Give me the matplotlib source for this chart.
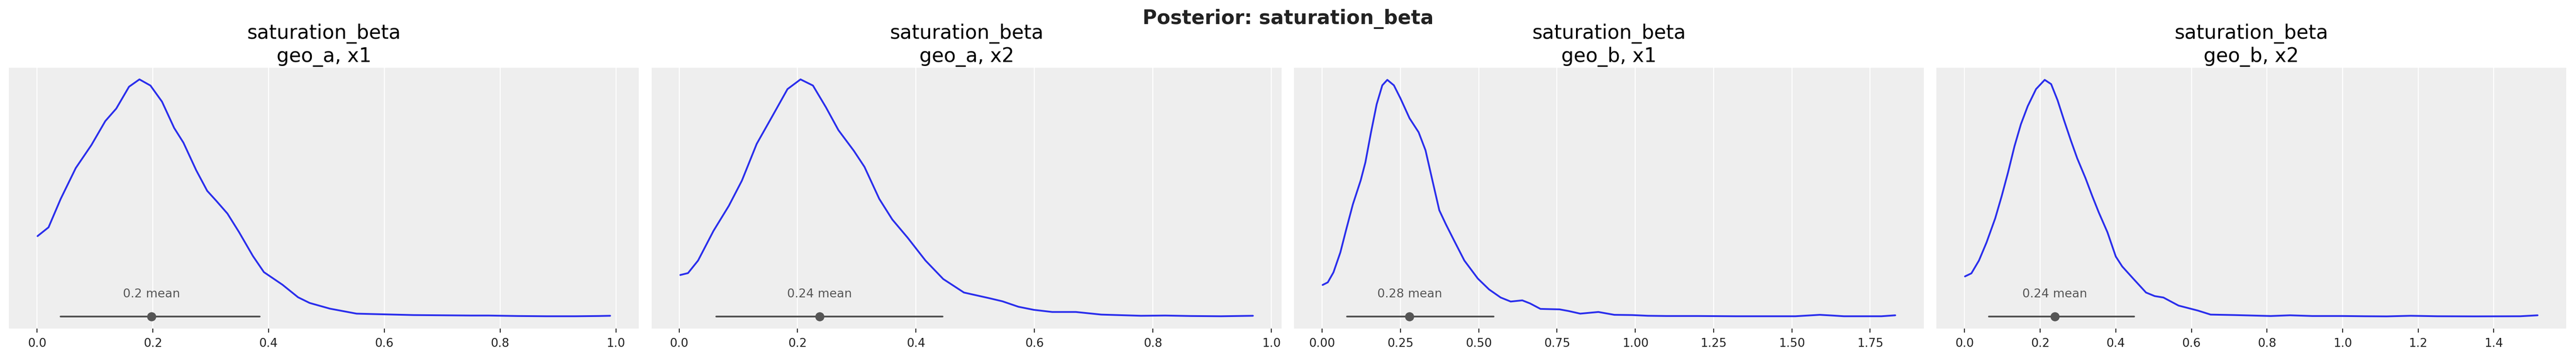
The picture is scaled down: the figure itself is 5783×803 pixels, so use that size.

# posterior density panels for saturation_beta
import numpy as np
import matplotlib
matplotlib.use("Agg")
import matplotlib.pyplot as plt

# panel titles
titles = ["saturation_beta\ngeo_a, x1", "saturation_beta\ngeo_a, x2",
          "saturation_beta\ngeo_b, x1", "saturation_beta\ngeo_b, x2"]

# density curves (x value, density scaled to peak = 1)
x_a1 = [0.001, 0.020, 0.041, 0.067, 0.094, 0.118, 0.137, 0.159, 0.177, 0.196, 0.216,
        0.237, 0.253, 0.275, 0.294, 0.310, 0.329, 0.349, 0.373, 0.392, 0.424, 0.451,
        0.471, 0.506, 0.552, 0.60, 0.65, 0.70, 0.75, 0.78, 0.83, 0.88, 0.93, 0.97, 0.99]
d_a1 = [0.339, 0.376, 0.496, 0.626, 0.723, 0.824, 0.877, 0.969, 1.000, 0.974, 0.906,
        0.795, 0.733, 0.617, 0.530, 0.487, 0.434, 0.356, 0.255, 0.187, 0.134, 0.081,
        0.057, 0.033, 0.012, 0.009, 0.006, 0.005, 0.004, 0.004, 0.002, 0.001, 0.001, 0.002, 0.003]

x_a2 = [0.002, 0.015, 0.032, 0.058, 0.084, 0.106, 0.131, 0.157, 0.183, 0.205, 0.226,
        0.248, 0.269, 0.295, 0.313, 0.338, 0.360, 0.386, 0.416, 0.446, 0.481, 0.524,
        0.546, 0.573, 0.599, 0.630, 0.670, 0.713, 0.780, 0.821, 0.864, 0.915, 0.969]
d_a2 = [0.175, 0.183, 0.236, 0.361, 0.467, 0.573, 0.728, 0.843, 0.959, 1.000, 0.974,
        0.882, 0.786, 0.699, 0.631, 0.496, 0.409, 0.332, 0.236, 0.158, 0.101, 0.077,
        0.064, 0.041, 0.028, 0.019, 0.019, 0.008, 0.003, 0.004, 0.002, 0.001, 0.003]

x_b1 = [0.0015, 0.018, 0.036, 0.058, 0.076, 0.098, 0.123, 0.138, 0.156, 0.174, 0.192,
        0.208, 0.229, 0.250, 0.279, 0.308, 0.330, 0.352, 0.374, 0.395, 0.421, 0.454,
        0.497, 0.533, 0.570, 0.602, 0.639, 0.664, 0.697, 0.758, 0.787, 0.824, 0.882,
        0.933, 0.990, 1.04, 1.10, 1.20, 1.32, 1.45, 1.511, 1.55, 1.589, 1.63, 1.666,
        1.75, 1.786, 1.83]
d_b1 = [0.133, 0.144, 0.186, 0.270, 0.363, 0.473, 0.574, 0.650, 0.777, 0.895, 0.975,
        0.998, 0.975, 0.920, 0.836, 0.777, 0.701, 0.574, 0.448, 0.389, 0.321, 0.236,
        0.160, 0.114, 0.080, 0.063, 0.068, 0.055, 0.032, 0.030, 0.023, 0.012, 0.019,
        0.007, 0.006, 0.003, 0.002, 0.002, 0.001, 0.001, 0.001, 0.004, 0.007, 0.004,
        0.001, 0.001, 0.001, 0.005]

x_b2 = [0.001, 0.018, 0.038, 0.058, 0.081, 0.098, 0.115, 0.132, 0.149, 0.167, 0.189,
        0.212, 0.229, 0.246, 0.263, 0.281, 0.298, 0.320, 0.338, 0.355, 0.378, 0.400,
        0.417, 0.446, 0.480, 0.503, 0.526, 0.566, 0.617, 0.651, 0.714, 0.81, 0.861,
        0.92, 1.00, 1.06, 1.117, 1.18, 1.25, 1.35, 1.47, 1.516]
d_b2 = [0.169, 0.182, 0.236, 0.312, 0.414, 0.507, 0.608, 0.718, 0.811, 0.887, 0.959,
        0.998, 0.980, 0.912, 0.828, 0.743, 0.667, 0.583, 0.507, 0.439, 0.355, 0.253,
        0.211, 0.160, 0.101, 0.086, 0.080, 0.046, 0.025, 0.008, 0.006, 0.002, 0.005,
        0.002, 0.002, 0.001, 0.0005, 0.003, 0.001, 0.0005, 0.001, 0.005]

curves_x = [x_a1, x_a2, x_b1, x_b2]
curves_d = [d_a1, d_a2, d_b1, d_b2]

# 94% HDI bounds and posterior means
hdi_low = [0.041, 0.063, 0.080, 0.064]
hdi_high = [0.385, 0.445, 0.548, 0.448]
means = [0.198, 0.237, 0.279, 0.239]
mean_labels = ["0.2 mean", "0.24 mean", "0.28 mean", "0.24 mean"]

# tick labels per panel
ticks = [[0.0, 0.2, 0.4, 0.6, 0.8, 1.0],
         [0.0, 0.2, 0.4, 0.6, 0.8, 1.0],
         [0.00, 0.25, 0.50, 0.75, 1.00, 1.25, 1.50, 1.75],
         [0.0, 0.2, 0.4, 0.6, 0.8, 1.0, 1.2, 1.4]]
tick_fmt = ["{:.1f}", "{:.1f}", "{:.2f}", "{:.1f}"]

W, H, DPI = 5783, 804, 100
BLUE = "#2a2eec"
GRAY = "#555555"


def px(v):
    """pixels -> points"""
    return v * 72.0 / DPI


def draw_panel(ax, i):
    xs = np.array(curves_x[i])
    ax.set_facecolor("#eeeeee")
    for s in ax.spines.values():
        s.set_visible(False)
    ax.plot(xs, curves_d[i], color=BLUE, lw=px(4), solid_joinstyle="round",
            solid_capstyle="round", zorder=3)
    ax.plot([hdi_low[i], hdi_high[i]], [0, 0], color=GRAY, lw=px(4),
            solid_capstyle="round", zorder=4)
    ax.plot([means[i]], [0], "o", color=GRAY, ms=px(19), zorder=5)
    ax.text(means[i], 0.083, mean_labels[i], ha="center", va="baseline",
            color=GRAY, fontsize=px(27))

    span = xs.max() - xs.min()
    ax.set_xlim(xs.min() - 0.05 * span, xs.max() + 0.05 * span)
    ax.set_ylim(-0.051, 1.049)
    ax.set_xticks(ticks[i])
    ax.set_xticklabels([tick_fmt[i].format(t) for t in ticks[i]])
    ax.set_yticks([])
    ax.tick_params(axis="x", length=px(9), width=px(2.2), pad=px(11),
                   color="#222222", labelcolor="#222222", labelsize=px(26.5))
    ax.grid(axis="x", color="white", lw=px(2.2))
    ax.set_axisbelow(True)
    ax.set_title(titles[i], fontsize=px(44), color="black", pad=px(14),
                 linespacing=1.2)


def main():
    fig = plt.figure(figsize=(W / DPI, H / DPI), dpi=DPI)
    lefts = [20, 1463, 2905, 4347]
    for i, left in enumerate(lefts):
        ax = fig.add_axes([left / W, (H - 738) / H, 1414 / W, 585 / H])
        draw_panel(ax, i)
    fig.text(0.5, 1 - 54 / H, "Posterior: saturation_beta", ha="center",
             va="baseline", fontsize=px(44), fontweight="bold", color="#222222")
    fig.savefig("out.png", dpi=DPI)
    plt.close(fig)


if __name__ == "__main__":
    main()
